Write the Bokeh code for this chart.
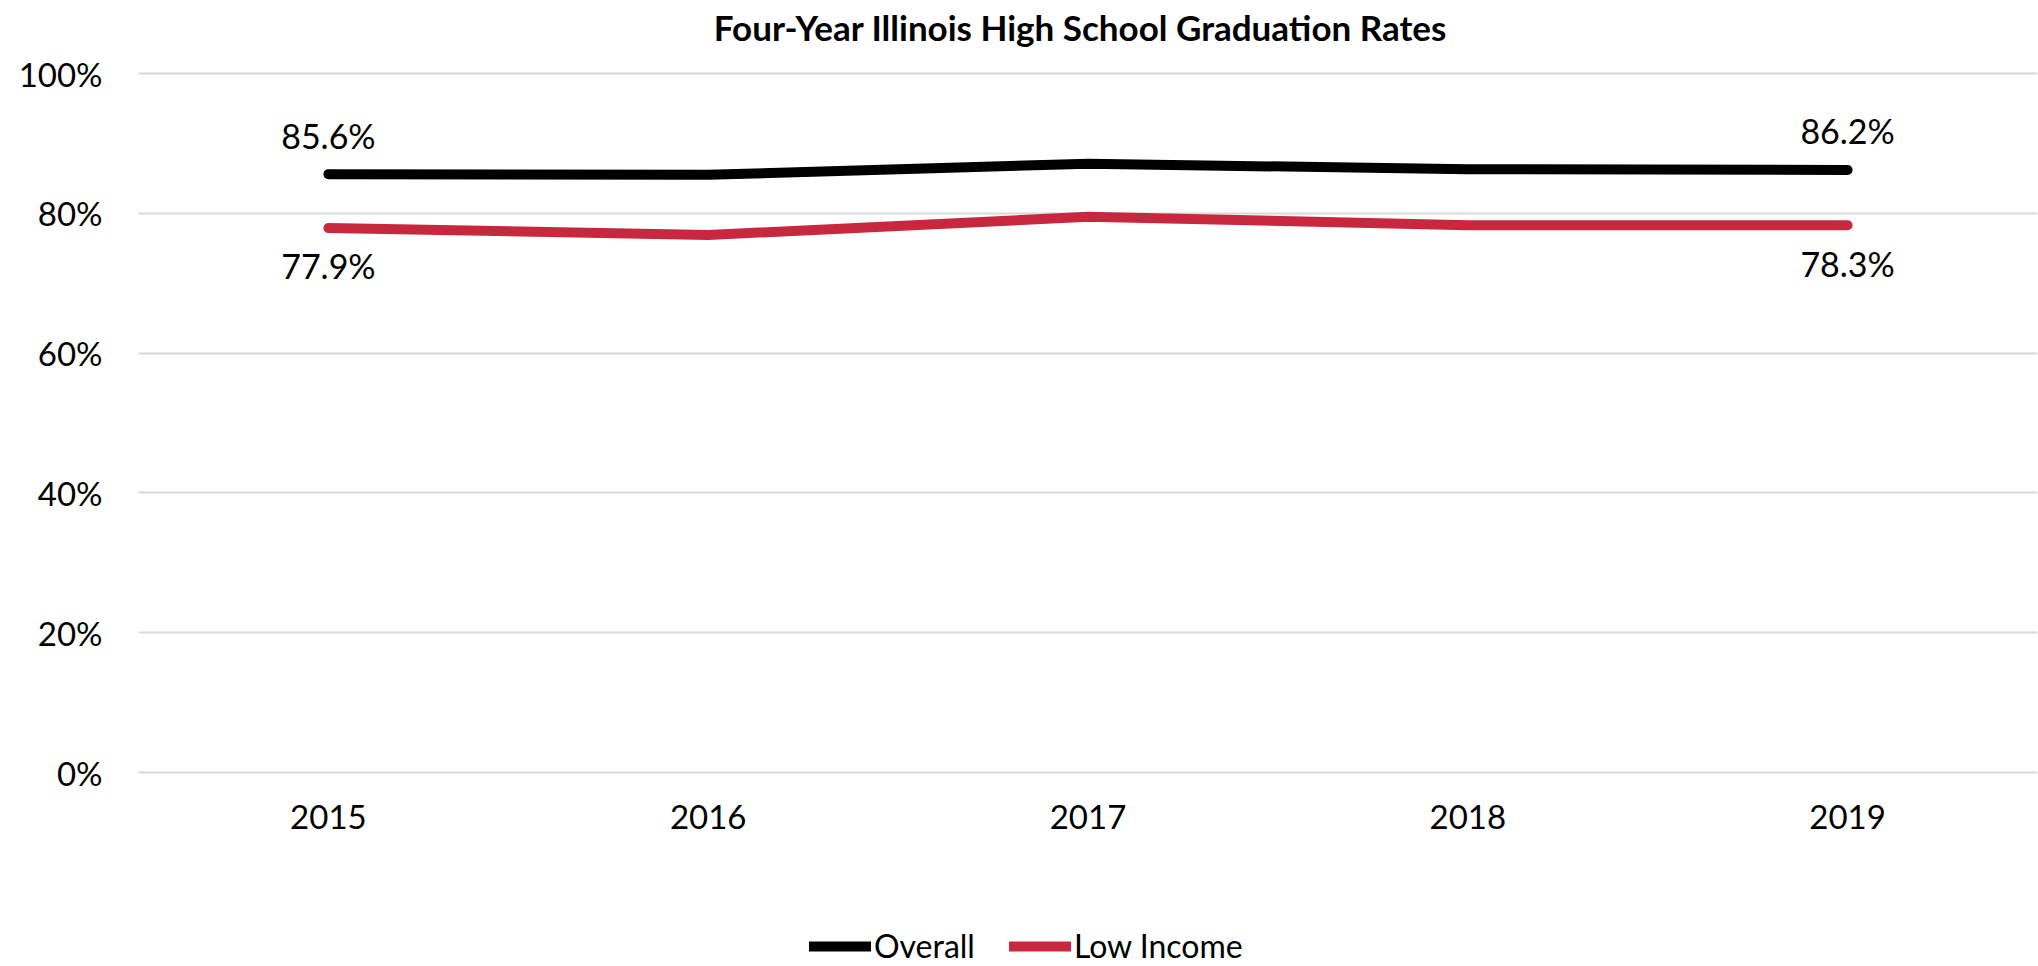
from bokeh.plotting import figure
from bokeh.models import (ColumnDataSource, FactorRange, Range1d, Legend, LegendItem,
                          CustomJSTickFormatter, FixedTicker, Label)
from bokeh.core.properties import value
from bokeh.embed import file_html
from bokeh.resources import INLINE

# ---- data ----
years = ["2015", "2016", "2017", "2018", "2019"]
overall = [85.6, 85.5, 87.1, 86.3, 86.2]
low_income = [77.9, 76.9, 79.5, 78.3, 78.3]
y_ticks = [0, 20, 40, 60, 80, 100]
title_text = "Four-Year Illinois High School Graduation Rates"
series_names = ["Overall", "Low Income"]

FONT = "Lato"
RED = "#C8283E"

W, H = 2038, 966
# layout: frame spans the whole canvas height; value 100 sits 73px from top, 0 sits 772px from top
TOP100, BOT0 = 73.0, 772.0
ppu = (BOT0 - TOP100) / 100.0
y_end = 100 + TOP100 / ppu
y_start = -(H - BOT0) / ppu

p = figure(width=W, height=H, x_range=FactorRange(*years), y_range=Range1d(y_start, y_end),
           output_backend="svg", toolbar_location=None,
           min_border_left=138, min_border_right=1, min_border_top=0, min_border_bottom=0)

p.outline_line_color = None
p.background_fill_color = "white"
p.border_fill_color = "white"

# grid
p.xgrid.grid_line_color = None
p.ygrid.grid_line_color = "#D9D9D9"
p.ygrid.grid_line_width = 2
p.ygrid.ticker = FixedTicker(ticks=y_ticks)

# axes
p.yaxis.ticker = FixedTicker(ticks=y_ticks)
p.yaxis.formatter = CustomJSTickFormatter(code="return tick.toFixed(0) + '%';")
for ax in (p.xaxis[0], p.yaxis[0]):
    ax.axis_line_color = None
    ax.major_tick_line_color = None
    ax.minor_tick_line_color = None
    ax.major_label_text_font = FONT
    ax.major_label_text_font_size = "33px"
    ax.major_label_text_color = "#000000"
p.yaxis.major_label_standoff = 30
p.xaxis.major_label_standoff = 26
p.xaxis.fixed_location = 0

src = ColumnDataSource(dict(year=years, overall=overall, low=low_income))
r1 = p.line("year", "overall", source=src, line_color="#000000", line_width=10,
            line_cap="round", line_join="round")
r2 = p.line("year", "low", source=src, line_color=RED, line_width=10,
            line_cap="round", line_join="round")

# data labels at first and last points
idx = [0, len(years) - 1]
lab_over = ColumnDataSource(dict(x=[years[i] for i in idx], y=[overall[i] for i in idx],
                                 t=["%.1f%%" % overall[i] for i in idx]))
lab_low = ColumnDataSource(dict(x=[years[i] for i in idx], y=[low_income[i] for i in idx],
                                t=["%.1f%%" % low_income[i] for i in idx]))
p.text("x", "y", text="t", source=lab_over, text_font=value(FONT), text_font_size="34px",
       text_align="center", text_baseline="middle", y_offset=-39, text_color="#000000")
p.text("x", "y", text="t", source=lab_low, text_font=value(FONT), text_font_size="34px",
       text_align="center", text_baseline="middle", y_offset=38, text_color="#000000")

# chart title
p.add_layout(Label(x=1080 - 138, y=H - 26, x_units="screen", y_units="screen", text=title_text,
                   text_font=FONT, text_font_size="35px", text_font_style="bold",
                   text_color="#000000", text_align="center", text_baseline="middle"))

legend = Legend(items=[LegendItem(label=series_names[0], renderers=[r1]),
                       LegendItem(label=series_names[1], renderers=[r2])],
                orientation="horizontal", location=(671, 1),
                label_text_font=FONT, label_text_font_size="32px", label_text_color="#000000",
                glyph_width=62, glyph_height=32, label_standoff=3, spacing=34,
                padding=0, margin=0, border_line_color=None, background_fill_alpha=0,
                label_height=32)
p.add_layout(legend, "center")

open("out.html", "w").write(file_html(p, INLINE))
